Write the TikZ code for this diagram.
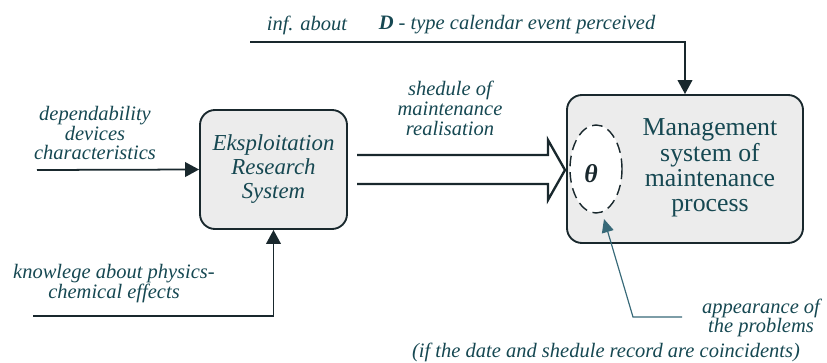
\documentclass[tikz,border=0pt]{standalone}
\usepackage{fontspec}
\setmainfont{Liberation Serif}
\usetikzlibrary{arrows.meta,shapes.geometric,positioning}

\definecolor{inktext}{RGB}{22,72,82}
\definecolor{inkline}{RGB}{25,40,45}
\definecolor{boxgray}{RGB}{236,236,236}
\definecolor{hintline}{RGB}{55,105,120}

\begin{document}
\begin{tikzpicture}[x=0.03cm,y=-0.03cm,
        sysbox/.style = {draw=inkline, line width=1.6pt, rounded corners=0.45cm, fill=boxgray, inner sep=0pt},
        flow/.style = {draw=inkline, line width=1.5pt, -{Triangle[length=0.42cm,width=0.44cm]}},
        lbl/.style = {text=inktext, font=\fontsize{17.5}{17}\selectfont\itshape, align=center, inner sep=0pt},
        ers/.style = {text=inktext, font=\fontsize{19.5}{20.5}\selectfont\itshape, align=center, inner sep=0pt},
        msm/.style = {text=inktext, font=\fontsize{22}{21.5}\selectfont, align=center, inner sep=0pt},]
        \useasboundingbox (0,0) rectangle (827,363);

        \node[sysbox, minimum width=4.41cm, minimum height=3.57cm] (erbox) at (273.5,169.5) {};
        \node[ers] (ertext) at (273.5,169) {Eksploitation\\Research\\System};

        \node[sysbox, minimum width=7.08cm, minimum height=4.44cm] (msbox) at (685,169) {};
        \node[msm] (mstext) at (710,168) {Management\\system of\\maintenance\\process};
        \node[draw=inkline, line width=1.2pt, dash pattern=on 9pt off 5pt, ellipse, fill=white,
              minimum width=1.56cm, minimum height=2.64cm, inner sep=0pt] (theta) at (596,169) {};
        \node[text=inkline, font=\fontsize{22}{22}\selectfont\bfseries\itshape] (thetatxt) at (591,174) {θ};

        \node[lbl] (inf) at (307,25) {inf. about};
        \node[lbl] (event) at (517,25) {\textbf{D} - type calendar event perceived};
        \node[lbl] (dep) at (95,133) {dependability\\devices\\characteristics};
        \node[lbl] (know) at (114,284) {knowlege about physics-\\chemical effects};
        \node[lbl] (shed) at (450,108) {shedule of\\maintenance\\realisation};
        \node[lbl] (appear) at (761,318) {appearance of\\the problems};
        \node[lbl] (coinc) at (606,352) {(if the date and shedule record are coincidents)};

        \coordinate (infstart) at (250,42);
        \coordinate (depstart) at (37,170);
        \coordinate (knowstart) at (33,316);
        \coordinate (appstart) at (682,317);
        \coordinate (appbend) at (633,317);
        \coordinate (shedtop) at (357,155);
        \coordinate (shedbot) at (357,184);
        \coordinate (shedtip) at (565,170);

        \draw[flow] (infstart) -| (msbox.north);
        \draw[flow] (depstart) -- (erbox.west);
        \draw[flow] (knowstart) -| (erbox.south);
        \draw[draw=inkline, line width=2pt, line join=miter]
            (shedtop) -- (548,155) -- (548,140) -- (shedtip) -- (548,200) -- (548,184) -- (shedbot);
        \draw[draw=hintline, line width=1pt, -{Triangle[length=0.4cm,width=0.36cm]}]
            (appstart) -- (appbend) -- (604,219);
\end{tikzpicture}
\end{document}
